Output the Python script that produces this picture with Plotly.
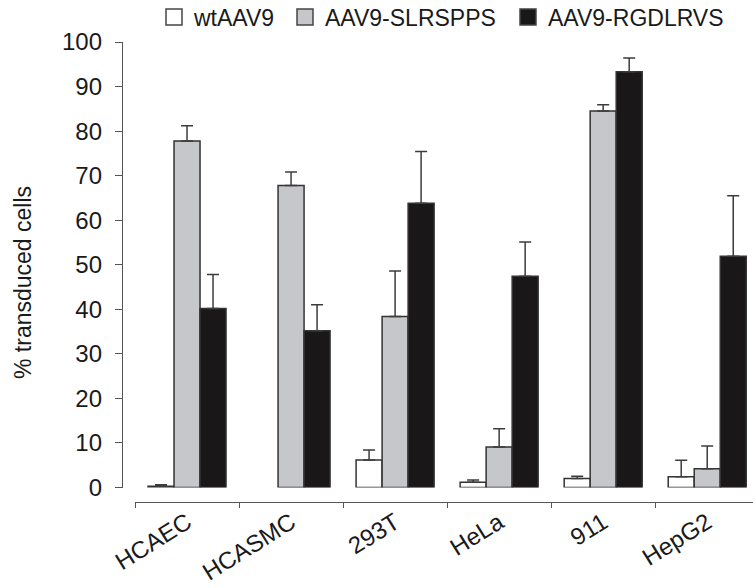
import plotly.graph_objects as go

cells = ["HCAEC", "HCASMC", "293T", "HeLa", "911", "HepG2"]
series = ["wtAAV9", "AAV9-SLRSPPS", "AAV9-RGDLRVS"]
wt = [0.3, None, 6.2, 1.2, 2.0, 2.4]
wt_err = [0.3, None, 2.2, 0.5, 0.5, 3.7]
slr = [77.8, 67.8, 38.4, 9.1, 84.5, 4.2]
slr_err = [3.4, 3.0, 10.2, 4.1, 1.4, 5.1]
rgd = [40.2, 35.2, 63.8, 47.4, 93.3, 51.9]
rgd_err = [7.6, 5.8, 11.6, 7.7, 3.1, 13.6]
yticks = [0, 10, 20, 30, 40, 50, 60, 70, 80, 90, 100]

W, H = 753, 588
ml, mr, mt, mb = 122, 0, 42, 86
ph = H - mt - mb
pw = W - ml - mr
y0_px = 487.5
xaxis_start = 135

edge = "#333333"
fills = ["#ffffff", "#c6c7ca", "#1a1718"]
vals = [wt, slr, rgd]
errs = [wt_err, slr_err, rgd_err]
legend_widths = [86, 178, 180]

fig = go.Figure()
for name, v, e, c in zip(series, vals, errs, fills):
    fig.add_trace(go.Bar(
        x=cells, y=v, name=name, showlegend=False, legendgroup=name,
        marker=dict(color=c, line=dict(color=edge, width=1.5)),
        error_y=dict(type="data", symmetric=False, array=e,
                     arrayminus=[0] * len(e), color="#3c3c3c",
                     thickness=1.5, width=6),
    ))
for name, c, lw in zip(series, fills, legend_widths):
    fig.add_trace(go.Scatter(
        x=[None], y=[None], mode="markers", name=name, legendgroup=name,
        legendwidth=lw,
        marker=dict(symbol="square", size=20, color=c,
                    line=dict(color="#444", width=1.5)),
    ))

font_family = "Liberation Sans, Arial, sans-serif"
fig.update_layout(
    width=W, height=H,
    margin=dict(l=ml, r=mr, t=mt, b=mb, autoexpand=False),
    paper_bgcolor="white", plot_bgcolor="white",
    barmode="group", bargap=0.25, bargroupgap=0,
    font=dict(family=font_family, size=24, color="#1a1a1a"),
    showlegend=True,
    legend=dict(orientation="h", x=(154 - ml) / pw, xanchor="left",
                y=(H - mb - 17) / ph, yanchor="middle",
                font=dict(size=23), bgcolor="rgba(0,0,0,0)",
                itemwidth=30, itemsizing="trace", traceorder="normal"),
    xaxis=dict(
        domain=[(xaxis_start - ml) / pw, 1],
        range=[-0.5, 5.44],
        anchor="free", position=0, automargin=False,
        showline=True, linecolor="#555", linewidth=1.3,
        ticks="outside", ticklen=5, tickcolor="#555", tickwidth=1.3,
        tickson="boundaries", tickangle=-32,
        ticklabelstandoff=-4,
        tickfont=dict(size=24),
        showgrid=False, zeroline=False,
    ),
    yaxis=dict(
        domain=[(H - mb - y0_px) / ph, 1],
        range=[0, 100],
        anchor="free", position=0, automargin=False,
        tickvals=yticks,
        showline=True, linecolor="#555", linewidth=1.3,
        ticks="outside", ticklen=7, tickcolor="#555", tickwidth=1.3,
        ticklabelstandoff=8,
        tickfont=dict(size=24),
        showgrid=False, zeroline=False,
    ),
    annotations=[dict(
        text="% transduced cells", textangle=-90,
        xref="paper", yref="paper",
        x=(23 - ml) / pw, y=(H - mb - 283) / ph,
        xanchor="center", yanchor="middle", showarrow=False,
        font=dict(size=23),
    )],
)

fig.write_html("out.html")
